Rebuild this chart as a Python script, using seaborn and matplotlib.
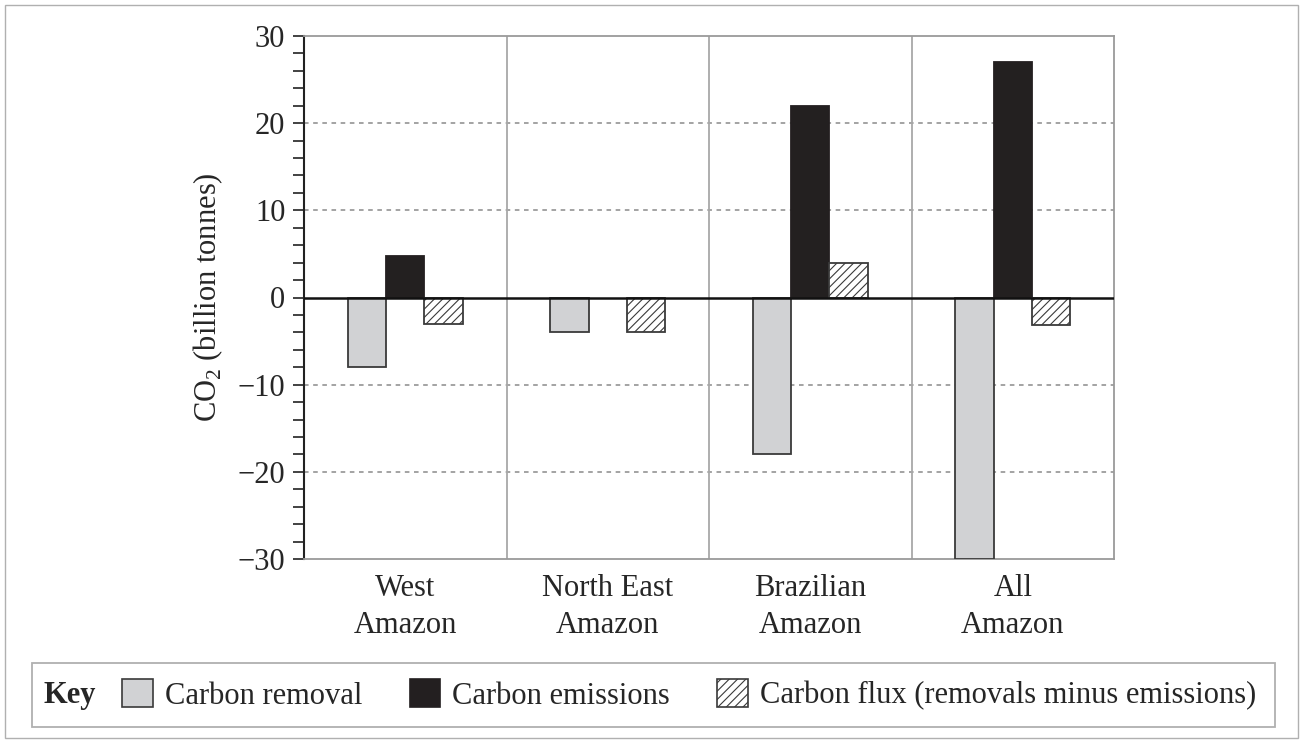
import pandas as pd
import matplotlib
matplotlib.use("Agg")
import matplotlib.pyplot as plt
import seaborn as sns
from matplotlib.patches import Patch, Rectangle
from matplotlib.ticker import MultipleLocator

# data (billion tonnes CO2)
regions = ["West\nAmazon", "North East\nAmazon", "Brazilian\nAmazon", "All\nAmazon"]
series = ["Carbon removal", "Carbon emissions", "Carbon flux (removals minus emissions)"]
removal = [-8, -4, -18, -30]
emissions = [4.8, None, 22, 27]
flux = [-3, -4, 4, -3.2]

colors = ["#d1d2d4", "#231f20", "#ffffff"]

rows = []
for name, vals in zip(series, [removal, emissions, flux]):
    for reg, v in zip(regions, vals):
        if v is not None:
            rows.append({"region": reg, "series": name, "value": v})
df = pd.DataFrame(rows)

sns.set_style("white")
plt.rcParams["font.family"] = ["Liberation Serif", "DejaVu Serif"]
plt.rcParams["mathtext.fontset"] = "custom"
plt.rcParams["mathtext.rm"] = "Liberation Serif"
plt.rcParams["hatch.linewidth"] = 0.8
plt.rcParams["hatch.color"] = "#333333"

FS = 22

fig = plt.figure(figsize=(13, 7.43), dpi=100)
ax = fig.add_axes([304 / 1300, 1 - 559 / 743, 810 / 1300, 523 / 743])

sns.barplot(data=df, x="region", y="value", hue="series", order=regions,
            hue_order=series, palette=colors, width=0.57, errorbar=None,
            edgecolor="#3a3a3a", linewidth=1.3, legend=False, ax=ax, zorder=3)

for bar in ax.containers[2]:
    bar.set_hatch("////")
for bar in ax.containers[1]:
    bar.set_edgecolor("#231f20")

ax.set_ylim(-30, 30)
ax.set_xlim(-0.5, 3.5)
ax.yaxis.set_major_locator(MultipleLocator(10))
ax.yaxis.set_minor_locator(MultipleLocator(2))
ax.tick_params(axis="y", which="both", direction="out", length=8, width=1.2,
               color="#222222", left=True, labelsize=FS, pad=5.5)
ax.tick_params(axis="x", which="both", length=0, labelsize=FS, pad=11)
for lab in ax.get_xticklabels():
    lab.set_linespacing(1.35)

for y in [-20, -10, 10, 20]:
    ax.axhline(y, color="#8a8a8a", linestyle=(0, (3, 3)), linewidth=1.1, zorder=1)
ax.axhline(0, color="#111111", linewidth=1.8, zorder=4)
for x in [0.5, 1.5, 2.5]:
    ax.axvline(x, color="#a8a8a8", linewidth=1.3, zorder=1)

for side in ["top", "right", "bottom"]:
    ax.spines[side].set_color("#9a9a9a")
    ax.spines[side].set_linewidth(1.3)
ax.spines["left"].set_color("#222222")
ax.spines["left"].set_linewidth(1.5)

ax.set_xlabel("")
ax.set_ylabel("CO$_2$ (billion tonnes)", fontsize=FS, labelpad=9)

# outer frame and key box
fig.patches.append(Rectangle((5 / 1300, 5 / 743), 1293 / 1300, 733 / 743,
                             transform=fig.transFigure, fill=False,
                             edgecolor="#b0b0b0", linewidth=1.0))
fig.patches.append(Rectangle((32 / 1300, 1 - 727 / 743), 1243 / 1300, 64 / 743,
                             transform=fig.transFigure, fill=False,
                             edgecolor="#b0b0b0", linewidth=1.3))
fig.text(43 / 1300, 1 - 695 / 743, "Key", fontsize=FS, fontweight="bold",
         va="center", ha="left")

handles = [Patch(facecolor=colors[0], edgecolor="#3a3a3a", linewidth=1.2),
           Patch(facecolor=colors[1], edgecolor="#231f20", linewidth=1.2),
           Patch(facecolor="white", edgecolor="#3a3a3a", linewidth=1.2, hatch="////")]
fig.legend(handles, series, loc="center left", bbox_to_anchor=(122 / 1300, 1 - 695 / 743),
           ncol=3, frameon=False, fontsize=FS, handlelength=1.0, handleheight=1.0,
           handletextpad=0.4, columnspacing=1.55, borderaxespad=0, borderpad=0)

fig.savefig("out.png", dpi=100)
